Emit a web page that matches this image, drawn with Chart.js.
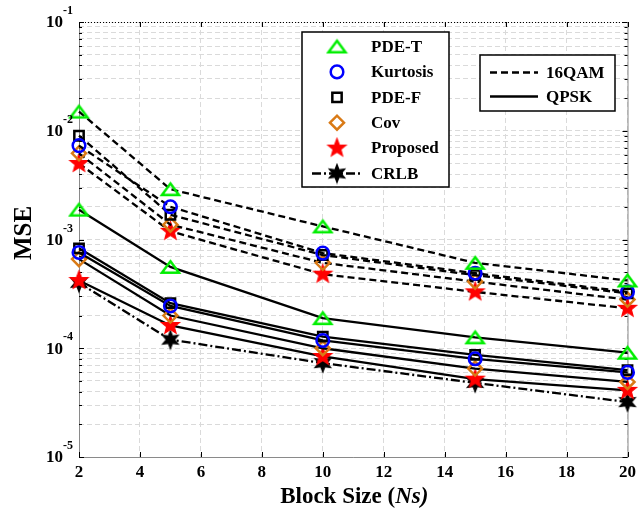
<!DOCTYPE html>
<html><head><meta charset="utf-8">
<script src="https://cdn.jsdelivr.net/npm/chart.js@4.4.0/dist/chart.umd.min.js"></script>
<style>html,body{margin:0;padding:0;background:#fff}#wrap{width:639px;height:513px;position:relative}</style>
</head><body><div id="wrap"><canvas id="c" width="639" height="513"></canvas></div>
<script>
// ---- data ----
const blockSizes = [2, 5, 10, 15, 20];
const xTickLabels = ['2','4','6','8','10','12','14','16','18','20'];
const yTickExps = [-5, -4, -3, -2, -1];
const methodNames = ['PDE-T', 'Kurtosis', 'PDE-F', 'Cov', 'Proposed', 'CRLB'];
const modNames = ['16QAM', 'QPSK'];
// 16QAM (dashed)
const qamPdeT  = [1.5e-2, 2.9e-3, 1.32e-3, 6.1e-4, 4.2e-4];
const qamKurt  = [7.3e-3, 2.0e-3, 7.5e-4, 4.9e-4, 3.3e-4];
const qamPdeF  = [9.0e-3, 1.69e-3, 7.2e-4, 4.7e-4, 3.2e-4];
const qamCov   = [6.2e-3, 1.37e-3, 6.1e-4, 4.1e-4, 2.8e-4];
const qamProp  = [5.0e-3, 1.19e-3, 4.8e-4, 3.3e-4, 2.33e-4];
// QPSK (solid)
const qpskPdeT = [1.88e-3, 5.6e-4, 1.89e-4, 1.26e-4, 9.1e-5];
const qpskKurt = [7.6e-4, 2.45e-4, 1.18e-4, 8.0e-5, 6.0e-5];
const qpskPdeF = [8.3e-4, 2.6e-4, 1.28e-4, 8.7e-5, 6.3e-5];
const qpskCov  = [6.6e-4, 2.0e-4, 1.0e-4, 6.5e-5, 4.9e-5];
const qpskProp = [4.2e-4, 1.62e-4, 8.4e-5, 5.2e-5, 4.1e-5];
const crlb     = [4.0e-4, 1.2e-4, 7.3e-5, 4.8e-5, 3.2e-5];

// ---- styles ----
const GREEN = '#00ee00', BLUE = '#0000ff', ORANGE = '#d97a16', RED = '#ff0000';
const FONT = '"Liberation Serif", "Times New Roman", serif';
const DASH = [7, 4], DASHDOT = [9, 3, 2, 3];
const MW = 2.5;

function starImg(n, outerR, innerR, fill, stroke) {
  const c = document.createElement('canvas');
  const s = Math.ceil(outerR * 2 + 4);
  c.width = c.height = s;
  const g = c.getContext('2d');
  g.translate(s / 2, s / 2);
  g.beginPath();
  for (let i = 0; i < 2 * n; i++) {
    const r = i % 2 ? innerR : outerR;
    const a = -Math.PI / 2 + i * Math.PI / n;
    g.lineTo(r * Math.cos(a), r * Math.sin(a));
  }
  g.closePath();
  g.fillStyle = fill; g.fill();
  g.strokeStyle = stroke; g.lineWidth = 1.2; g.stroke();
  return c;
}
function triImg(w, h, color) {
  const c = document.createElement('canvas');
  c.width = Math.ceil(w + 6); c.height = Math.ceil(h + 6);
  const g = c.getContext('2d');
  g.translate(c.width / 2, c.height / 2);
  g.beginPath();
  g.moveTo(0, -h / 2); g.lineTo(w / 2, h / 2); g.lineTo(-w / 2, h / 2); g.closePath();
  g.strokeStyle = color; g.lineWidth = MW; g.lineJoin = 'miter'; g.stroke();
  return c;
}
const redStar = starImg(5, 9.5, 4, RED, RED);
const blackStar = starImg(6, 9, 4.2, '#000', '#000');
const greenTri = triImg(17, 11.5, GREEN);

const markerStyles = {
  'PDE-T':   {pointStyle: greenTri, pointRadius: 9, pointBorderColor: GREEN},
  'Kurtosis':{pointStyle: 'circle', pointRadius: 6.3, pointBorderColor: BLUE},
  'PDE-F':   {pointStyle: 'rect', pointRadius: 6.6, pointBorderColor: '#000'},
  'Cov':     {pointStyle: 'rectRot', pointRadius: 7, pointBorderColor: ORANGE},
  'Proposed':{pointStyle: redStar, pointRadius: 9, pointBorderColor: RED},
  'CRLB':    {pointStyle: blackStar, pointRadius: 9, pointBorderColor: '#000'}
};

function ds(name, values, dash) {
  return Object.assign({
    label: name,
    data: blockSizes.map((x, i) => ({x: x, y: values[i]})),
    borderColor: '#000',
    borderWidth: 2.3,
    borderDash: dash,
    pointBackgroundColor: 'rgba(0,0,0,0)',
    pointBorderWidth: MW,
    pointHoverRadius: 9,
    clip: false,
    tension: 0
  }, markerStyles[name]);
}

const datasets = [
  ds('PDE-T', qamPdeT, DASH), ds('Kurtosis', qamKurt, DASH), ds('PDE-F', qamPdeF, DASH),
  ds('Cov', qamCov, DASH), ds('Proposed', qamProp, DASH),
  ds('PDE-T', qpskPdeT, []), ds('Kurtosis', qpskKurt, []), ds('PDE-F', qpskPdeF, []),
  ds('Cov', qpskCov, []), ds('Proposed', qpskProp, []),
  ds('CRLB', crlb, DASHDOT)
];

function drawMarker(ctx, name, x, y) {
  const m = markerStyles[name];
  ctx.save();
  ctx.lineWidth = MW; ctx.strokeStyle = m.pointBorderColor; ctx.setLineDash([]);
  const r = m.pointRadius;
  ctx.beginPath();
  if (m.pointStyle === 'circle') {
    ctx.arc(x, y, r, 0, Math.PI * 2); ctx.stroke();
  } else if (m.pointStyle === 'rect') {
    const s = Math.SQRT1_2 * r; ctx.rect(x - s, y - s, 2 * s, 2 * s); ctx.stroke();
  } else if (m.pointStyle === 'rectRot') {
    ctx.moveTo(x - r, y); ctx.lineTo(x, y - r); ctx.lineTo(x + r, y); ctx.lineTo(x, y + r);
    ctx.closePath(); ctx.stroke();
  } else {
    const img = m.pointStyle;
    ctx.drawImage(img, x - img.width / 2, y - img.height / 2);
  }
  ctx.restore();
}

const decorPlugin = {
  id: 'decor',
  beforeDatasetsDraw(chart) {
    const ctx = chart.ctx, a = chart.chartArea;
    const xs = chart.scales.x, ys = chart.scales.y;
    ctx.save();
    ctx.strokeStyle = '#8a8a8a'; ctx.lineWidth = 1; ctx.setLineDash([]);
    ctx.beginPath();
    ctx.moveTo(a.left + 0.5, a.top); ctx.lineTo(a.left + 0.5, a.bottom + 0.5);
    ctx.lineTo(a.right + 0.5, a.bottom + 0.5); ctx.lineTo(a.right + 0.5, a.top);
    ctx.stroke();
    ctx.strokeStyle = '#000'; ctx.setLineDash([1, 2]);
    ctx.beginPath(); ctx.moveTo(a.left, a.top + 0.5); ctx.lineTo(a.right, a.top + 0.5); ctx.stroke();
    ctx.setLineDash([]);
    ctx.strokeStyle = '#000'; ctx.lineWidth = 1;
    ctx.beginPath();
    ys.ticks.forEach(t => {
      const y = Math.round(ys.getPixelForValue(t.value)) + 0.5;
      const L = t.major ? 5 : 3;
      ctx.moveTo(a.left, y); ctx.lineTo(a.left + L, y);
      ctx.moveTo(a.right, y); ctx.lineTo(a.right - L, y);
    });
    xTickLabels.forEach(lbl => {
      const x = Math.round(xs.getPixelForValue(Number(lbl))) + 0.5;
      ctx.moveTo(x, a.bottom); ctx.lineTo(x, a.bottom - 5);
      ctx.moveTo(x, a.top); ctx.lineTo(x, a.top + 5);
    });
    ctx.stroke();
    ctx.restore();
  },
  afterDraw(chart) {
    const ctx = chart.ctx, a = chart.chartArea;
    const xs = chart.scales.x, ys = chart.scales.y;
    ctx.save();
    ctx.fillStyle = '#000';
    ctx.font = 'bold 17px ' + FONT;
    ctx.textAlign = 'center'; ctx.textBaseline = 'middle';
    xTickLabels.forEach(lbl => {
      ctx.fillText(lbl, xs.getPixelForValue(Number(lbl)), 473);
    });
    yTickExps.forEach(e => {
      const y = ys.getPixelForValue(Math.pow(10, e));
      ctx.font = 'bold 17px ' + FONT; ctx.textAlign = 'right'; ctx.textBaseline = 'middle';
      ctx.fillText('10', 63, y + 1);
      ctx.font = 'bold 12px ' + FONT; ctx.textAlign = 'left';
      ctx.fillText('-' + Math.abs(e), 63, y - 11);
    });
    ctx.textBaseline = 'middle'; ctx.textAlign = 'left';
    const p1 = 'Block Size (', p2 = 'Ns)';
    ctx.font = 'bold 23px ' + FONT; const w1 = ctx.measureText(p1).width;
    ctx.font = 'italic bold 23px ' + FONT; const w2 = ctx.measureText(p2).width;
    const cx = (a.left + a.right) / 2 + 1;
    let sx = cx - (w1 + w2) / 2;
    ctx.font = 'bold 23px ' + FONT; ctx.fillText(p1, sx, 497);
    ctx.font = 'italic bold 23px ' + FONT; ctx.fillText(p2, sx + w1, 497);
    ctx.save();
    ctx.translate(25, 233); ctx.rotate(-Math.PI / 2);
    ctx.font = 'bold 25px ' + FONT; ctx.textAlign = 'center'; ctx.textBaseline = 'middle';
    ctx.fillText('MSE', 0, 0);
    ctx.restore();

    // legend 1
    ctx.fillStyle = '#fff'; ctx.fillRect(302, 32, 147, 155);
    ctx.strokeStyle = '#000'; ctx.lineWidth = 1.5; ctx.setLineDash([]);
    ctx.strokeRect(302, 32, 147, 155);
    const ly0 = 46.5, dy = 25.4;
    methodNames.forEach((n, i) => {
      const y = ly0 + i * dy;
      if (n === 'CRLB') {
        ctx.save(); ctx.strokeStyle = '#000'; ctx.lineWidth = 2.3; ctx.setLineDash(DASHDOT);
        ctx.beginPath(); ctx.moveTo(312, y); ctx.lineTo(363, y); ctx.stroke(); ctx.restore();
      }
      drawMarker(ctx, n, 337, y);
      ctx.fillStyle = '#000'; ctx.font = 'bold 17px ' + FONT;
      ctx.textAlign = 'left'; ctx.textBaseline = 'middle';
      ctx.fillText(n, 371, y + 1);
    });
    // legend 2
    ctx.fillStyle = '#fff'; ctx.fillRect(480, 55, 135, 56);
    ctx.strokeStyle = '#000'; ctx.lineWidth = 1.5; ctx.strokeRect(480, 55, 135, 56);
    modNames.forEach((n, i) => {
      const y = 72.5 + i * 24;
      ctx.save(); ctx.strokeStyle = '#000'; ctx.lineWidth = 2.3;
      ctx.setLineDash(i === 0 ? DASH : []);
      ctx.beginPath(); ctx.moveTo(490, y); ctx.lineTo(538, y); ctx.stroke(); ctx.restore();
      ctx.fillStyle = '#000'; ctx.font = 'bold 17px ' + FONT;
      ctx.textAlign = 'left'; ctx.textBaseline = 'middle';
      ctx.fillText(n, 546, y + 1);
    });
    ctx.restore();
  }
};

new Chart(document.getElementById('c'), {
  type: 'line',
  data: {datasets: datasets},
  options: {
    responsive: false, animation: false, devicePixelRatio: 1,
    layout: {padding: {left: 79, right: 10, top: 22, bottom: 56}},
    plugins: {legend: {display: false}, tooltip: {enabled: false}},
    scales: {
      x: {
        type: 'linear', min: 2, max: 20,
        ticks: {display: false, stepSize: 2},
        afterBuildTicks: s => { s.ticks = xTickLabels.map(v => ({value: Number(v)})); },
        grid: {color: '#dadada', lineWidth: 1, drawTicks: false},
        border: {display: false, dash: [5, 3]}
      },
      y: {
        type: 'logarithmic', min: 1e-5, max: 1e-1,
        ticks: {display: false, autoSkip: false},
        afterBuildTicks: s => {
          const t = [];
          for (let e = -5; e < -1; e++) for (let k = 1; k < 10; k++) t.push({value: k * Math.pow(10, e), major: k === 1});
          t.push({value: 0.1, major: true});
          s.ticks = t;
        },
        grid: {color: '#dadada', lineWidth: 1, drawTicks: false},
        border: {display: false, dash: [5, 3]}
      }
    }
  },
  plugins: [decorPlugin]
});
</script>
</body></html>
